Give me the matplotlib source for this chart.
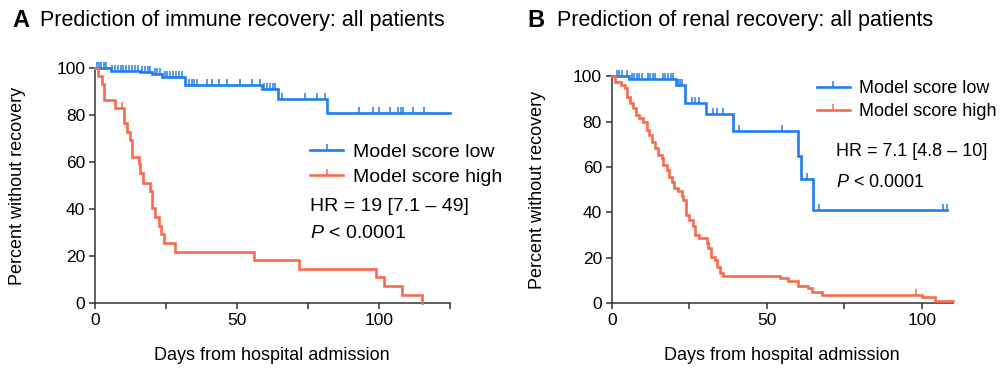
import numpy as np
import matplotlib
matplotlib.use('Agg')
import matplotlib.pyplot as plt
from matplotlib.lines import Line2D

plt.rcParams['font.family'] = ['Liberation Sans', 'DejaVu Sans']
plt.rcParams['mathtext.fontset'] = 'custom'
plt.rcParams['mathtext.it'] = 'Liberation Sans:italic'
plt.rcParams['mathtext.rm'] = 'Liberation Sans'

BLUE = '#1f7fef'
RED = '#fa6a4c'

# Panel A: immune recovery
a_low_t = [0, 5.5, 16, 20.1, 23.6, 31.8, 58.8, 64.6, 81.8]
a_low_s = [100, 99, 98.3, 97.6, 96.5, 92.9, 91.4, 87.2, 81]
a_low_end = 125
a_low_cens = [0.8, 1.5, 2.2, 3, 3.8, 6, 7, 8, 9, 10, 11, 12, 13, 14, 15,
              16.5, 17.5, 18.5, 19.5, 21, 22, 23, 24.5, 25.5, 26.5, 27.5,
              28.5, 29.5, 30.5, 33, 34, 35, 36, 39.5, 41.2, 43.5, 46.5,
              51.2, 55.3, 58.2, 59.5, 60.5, 61.5, 62.5, 63.5, 65.8, 74,
              78.1, 81, 93.1, 98, 100.1, 103.9, 106.8, 107.6, 108.5, 111.8,
              115.8]

a_high_t = [0, 1, 2.6, 3.1, 7.2, 10.2, 11.1, 12.3, 13.1, 15.4, 16, 17, 19.3,
            20.1, 21.3, 22.5, 23.4, 24.2, 28.3, 56.1, 72, 98.8, 101.8, 108, 115]
a_high_s = [100, 96.7, 93.3, 86.7, 83.3, 76.6, 73, 69.5, 62.4, 59.2, 55.3,
            51.4, 48, 40.4, 36.7, 33, 29.5, 25.6, 22, 18.4, 14.7, 11, 7.2,
            3.6, 0]
a_high_end = 115
a_high_cens = [9.4]

# Panel B: renal recovery
b_low_t = [0, 5.7, 20.7, 23.6, 30.4, 39, 60.2, 61, 65]
b_low_s = [100, 98.6, 96, 88, 83.4, 76, 65, 54.5, 41]
b_low_end = 108
b_low_cens = [1.6, 2.4, 3.2, 4.8, 6.5, 7.3, 8.1, 8.9, 9.7, 11.7, 12.5, 13.2,
              14, 16.5, 17.3, 18.1, 19, 19.8, 21.5, 22, 22.6, 25.8, 26.9, 28,
              32.8, 33.9, 36, 41, 55, 63.1, 67, 107, 108]

b_high_t = [0, 1.1, 2.9, 4.3, 4.8, 5.9, 7, 7.8, 8.9, 10.2, 11.3, 12.1, 12.9,
            14, 15, 16.1, 16.6, 17.7, 18.6, 19.4, 20.2, 21.3, 22.6, 23.1, 24,
            25, 26.1, 26.9, 28.3, 30.6, 31.2, 31.9, 33.3, 34.1, 34.9, 36,
            54.3, 57, 60.2, 63.4, 64.5, 67.7, 100, 104.3]
b_high_s = [100, 97.3, 96, 94.7, 91, 88.1, 85.9, 83, 81.5, 80, 76.3, 74.1,
            71.2, 68.3, 65.3, 63.9, 61, 58.7, 55.8, 53.6, 50.7, 49.3, 47.3,
            45.5, 38.9, 36.7, 34, 30.1, 28.6, 26.4, 24.2, 20.5, 19.1, 16.1,
            13.5, 12, 11, 10, 7.6, 6.6, 5.1, 3.7, 2.6, 1.1]
b_high_end = 110
b_high_cens = [98.2]

titles = ['Prediction of immune recovery: all patients',
          'Prediction of renal recovery: all patients']
hr_text = ['HR = 19 [7.1 \u2013 49]', 'HR = 7.1 [4.8 \u2013 10]']


def km(ax, t, s, end, cens, color):
    tt = list(t) + [end]
    ss = list(s) + [s[-1]]
    ax.step(tt, ss, where='post', color=color, lw=1.9, clip_on=False,
            solid_joinstyle='miter', zorder=3)
    idx = np.searchsorted(t, cens, side='right') - 1
    cy = np.array(s)[idx]
    ax.plot(cens, cy, ls='none', marker=2, ms=4, mew=1.1, color=color,
            clip_on=False, zorder=3)


fig = plt.figure(figsize=(10, 3.68), dpi=100)
axA = fig.add_axes([0.095, 0.176, 0.355, 0.638])
axB = fig.add_axes([0.6117, 0.176, 0.341, 0.617])

km(axA, a_low_t, a_low_s, a_low_end, a_low_cens, BLUE)
km(axA, a_high_t, a_high_s, a_high_end, a_high_cens, RED)
km(axB, b_low_t, b_low_s, b_low_end, b_low_cens, BLUE)
km(axB, b_high_t, b_high_s, b_high_end, b_high_cens, RED)

for ax, xmax, xt in [(axA, 125, [0, 25, 50, 75, 100, 125]),
                     (axB, 110, [0, 25, 50, 75, 100])]:
    ax.set_xlim(0, xmax)
    ax.set_ylim(0, 100)
    ax.set_xticks(xt)
    ax.set_xticklabels([str(v) if v in (0, 50, 100) else '' for v in xt])
    ax.set_yticks([0, 20, 40, 60, 80, 100])
    for sp in ['top', 'right']:
        ax.spines[sp].set_visible(False)
    for sp in ['left', 'bottom']:
        ax.spines[sp].set_linewidth(1.1)
        ax.spines[sp].set_color('#333333')
    ax.tick_params(direction='out', length=4, width=1.1, color='#333333',
                   labelsize=12.5, pad=3)

handles = [Line2D([], [], color=BLUE, lw=1.9, marker=2, ms=4, mew=1.1),
           Line2D([], [], color=RED, lw=1.9, marker=2, ms=4, mew=1.1)]
labels = ['Model score low', 'Model score high']

axA.legend(handles, labels, loc='upper left', frameon=False, fontsize=14,
           bbox_to_anchor=(0.310, 1 - 143 / 368), bbox_transform=fig.transFigure,
           borderpad=0, borderaxespad=0, handlelength=1.7, handletextpad=0.5,
           labelspacing=0.38, numpoints=1)
axB.legend(handles, labels, loc='upper left', frameon=False, fontsize=13,
           bbox_to_anchor=(0.817, 1 - 80 / 368), bbox_transform=fig.transFigure,
           borderpad=0, borderaxespad=0, handlelength=1.8, handletextpad=0.5,
           labelspacing=0.35, numpoints=1)

fig.text(0.310, 1 - 206 / 368, hr_text[0], fontsize=14, va='center')
fig.text(0.310, 1 - 233 / 368, '$P$ < 0.0001', fontsize=14, va='center')
fig.text(0.836, 1 - 151 / 368, hr_text[1], fontsize=13, va='center')
fig.text(0.836, 1 - 183 / 368, '$P$ < 0.0001', fontsize=13, va='center')

fig.text(0.012, 0.945, 'A', fontsize=17, fontweight='bold', va='center')
fig.text(0.040, 0.945, titles[0], fontsize=15.5, va='center')
fig.text(0.527, 0.945, 'B', fontsize=17, fontweight='bold', va='center')
fig.text(0.557, 0.945, titles[1], fontsize=15.5, va='center')

fig.text(0.272, 1 - 355 / 368, 'Days from hospital admission', fontsize=13,
         ha='center', va='center')
fig.text(0.782, 1 - 355 / 368, 'Days from hospital admission', fontsize=13,
         ha='center', va='center')
fig.text(0.018, 1 - 186 / 368, 'Percent without recovery', fontsize=13,
         rotation=90, ha='center', va='center')
fig.text(0.538, 1 - 190 / 368, 'Percent without recovery', fontsize=13,
         rotation=90, ha='center', va='center')

fig.savefig('out.png', dpi=100)
